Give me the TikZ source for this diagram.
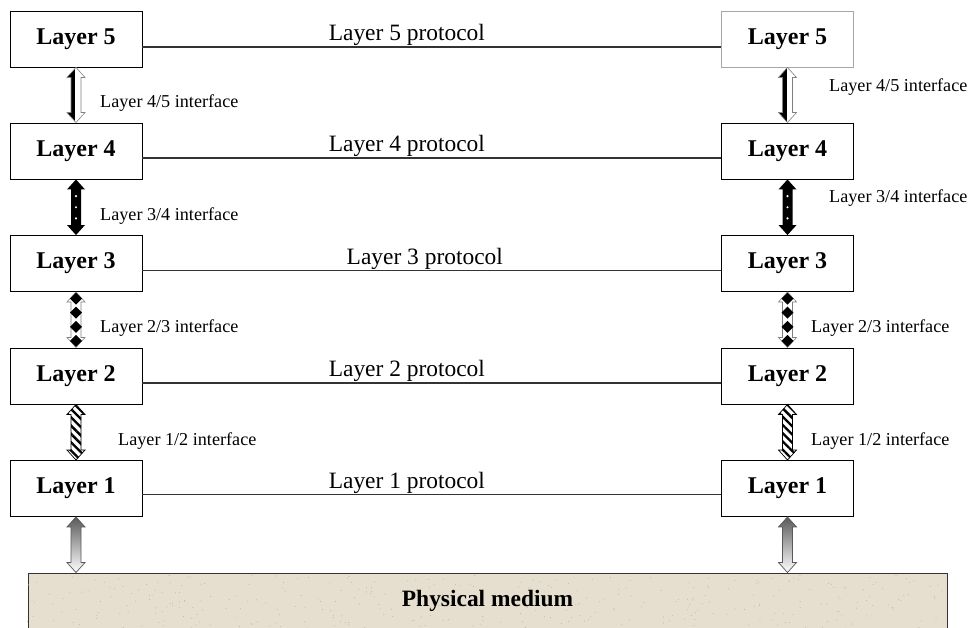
\documentclass[tikz,border=0pt]{standalone}
\usepackage{fontspec}
\setmainfont{Liberation Serif}
\usepackage{xcolor}
\usepackage{tikz}
\usetikzlibrary{arrows,shapes,positioning,calc,patterns.meta}

\definecolor{sand}{RGB}{230,222,206}

% outline of a block arrow between two layers (from bottom of #1 to top of #2)
\newcommand{\arrowpath}[2]{(#1) -- ++(9,10) -- ++(-4,0) -- ($(#2)+(5,-10)$) -- ++(4,0) -- (#2)
    -- ++(-9,-10) -- ++(4,0) -- ($(#1)+(-5,10)$) -- ++(-4,0) -- cycle}

\begin{document}
\begin{tikzpicture}[x=0.3mm, y=-0.3mm,
  layer/.style={draw, rectangle, line width=0.8pt, minimum width=39.6mm, minimum height=16.8mm, inner sep=0pt, fill=white, font=\fontsize{20.5}{24}\selectfont\bfseries},
  proto/.style={line width=0.9pt, draw=black!80},
  protolabel/.style={above, inner sep=0.5pt, font=\fontsize{20}{24}\selectfont},
  iflabel/.style={anchor=west, inner sep=0pt, font=\fontsize{15.5}{18}\selectfont},
  hollow/.style={fill=white, draw=gray, line width=0.5pt}]
\useasboundingbox (0,0) rectangle (971,628);

% Left stack
\node[layer] (l5) at (76,39) {Layer 5};
\node[layer] (l4) at (76,151) {Layer 4};
\node[layer] (l3) at (76,263.5) {Layer 3};
\node[layer] (l2) at (76,376) {Layer 2};
\node[layer] (l1) at (76,488.5) {Layer 1};

% Right stack
\node[layer, draw=gray!70] (r5) at (787.5,39) {Layer 5};
\node[layer] (r4) at (787.5,151) {Layer 4};
\node[layer] (r3) at (787.5,263.5) {Layer 3};
\node[layer] (r2) at (787.5,376) {Layer 2};
\node[layer] (r1) at (787.5,488.5) {Layer 1};

% Physical medium
\node[draw=black!80, line width=0.8pt, fill=sand, minimum width=275.7mm, minimum height=16.5mm] (medium) at (487.5,600.5) {};
\pgfmathsetseed{7}
\foreach \i in {1,...,350}
  \fill[sand!80!black] ($(medium.south west)+(rnd*917,-rnd*53)$) circle (0.5);
\node[font=\fontsize{20}{24}\selectfont\bfseries] (mediumtext) at (medium.center) {Physical medium};
\coordinate (m1) at (l1.south |- medium.north);
\coordinate (m2) at (r1.south |- medium.north);

% Protocols
\draw[proto] ($(l5.east)+(0,8)$) -- ($(r5.west)+(0,8)$) node[protolabel, pos=0.457] {Layer 5 protocol};
\draw[proto] ($(l4.east)+(0,7)$) -- ($(r4.west)+(0,7)$) node[protolabel, pos=0.457] {Layer 4 protocol};
\draw[proto] ($(l3.east)+(0,7)$) -- ($(r3.west)+(0,7)$) node[protolabel, pos=0.488] {Layer 3 protocol};
\draw[proto] ($(l2.east)+(0,7)$) -- ($(r2.west)+(0,7)$) node[protolabel, pos=0.457] {Layer 2 protocol};
\draw[proto] ($(l1.east)+(0,6)$) -- ($(r1.west)+(0,6)$) node[protolabel, pos=0.457] {Layer 1 protocol};

% Layer 4/5 interfaces
\foreach \a/\b in {l5/l4, r5/r4} {
  \fill[white] \arrowpath{\a.south}{\b.north};
  \begin{scope}
    \clip \arrowpath{\a.south}{\b.north};
    \fill ($(\a.south)+(-10,0)$) rectangle ($(\b.north)+(-1,0)$);
  \end{scope}
  \draw[gray, line width=0.5pt] \arrowpath{\a.south}{\b.north};
}

% Layer 3/4 interfaces
\foreach \a/\b in {l4/l3, r4/r3} {
  \fill \arrowpath{\a.south}{\b.north};
  \foreach \k in {0.3,0.5,0.7}
    \fill[white] ($(\a.south)!\k!(\b.north)$) circle (1.2);
}

% Layer 2/3 interfaces
\foreach \a/\b in {l3/l2, r3/r2} {
  \path[hollow] \arrowpath{\a.south}{\b.north};
  \foreach \k in {0.12,0.37,0.63,0.88}
    \fill ($(\a.south)!\k!(\b.north)$) +(0,-6) -- +(6,0) -- +(0,6) -- +(-6,0) -- cycle;
}

% Layer 1/2 interfaces
\foreach \a/\b in {l2/l1, r2/r1}
  \path[preaction={fill=white}, pattern={Lines[angle=-45,distance=5pt,line width=2pt]}, draw=black, line width=0.6pt] \arrowpath{\a.south}{\b.north};

% Medium interfaces
\foreach \a/\b in {l1/m1, r1/m2}
  \path[top color=black!65, bottom color=white, draw=gray!70!black, line width=0.6pt] \arrowpath{\a.south}{\b};

% Interface labels
\node[iflabel] (if45l) at (100,103) {Layer 4/5 interface};
\node[iflabel] (if34l) at (100,216) {Layer 3/4 interface};
\node[iflabel] (if23l) at (100,328) {Layer 2/3 interface};
\node[iflabel] (if12l) at (118,441) {Layer 1/2 interface};
\node[iflabel] (if45r) at (829,87) {Layer 4/5 interface};
\node[iflabel] (if34r) at (829,198) {Layer 3/4 interface};
\node[iflabel] (if23r) at (811,328) {Layer 2/3 interface};
\node[iflabel] (if12r) at (811,441) {Layer 1/2 interface};

\end{tikzpicture}
\end{document}
